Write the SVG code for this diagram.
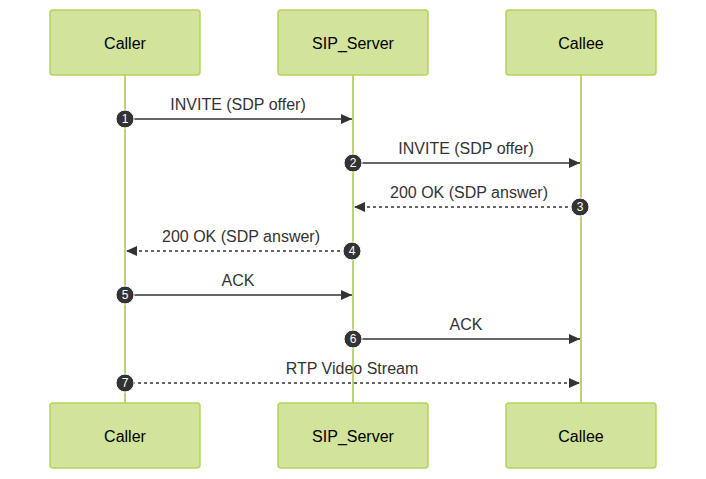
<svg xmlns="http://www.w3.org/2000/svg" width="706" height="479" viewBox="0 0 706 479">
<style>
.box{fill:#d2e39b;stroke:#b3d55a;stroke-width:1.5}
.t{font-family:"Liberation Sans",Arial,sans-serif;font-size:16px;fill:#000;text-anchor:middle}
.m{font-family:"Liberation Sans",Arial,sans-serif;font-size:16px;fill:#333;text-anchor:middle}
.life{stroke:#a3c63e;stroke-width:1.5}
.msg{stroke:#333;stroke-width:1.5;fill:none}
.d{stroke-dasharray:3,3}
.n circle{fill:#333;stroke:#fff;stroke-width:1}
.n text{font-family:"Liberation Sans",Arial,sans-serif;font-size:12px;fill:#fff;text-anchor:middle}
</style>
<defs><marker id="a" markerWidth="12" markerHeight="12" refX="11" refY="6" orient="auto" markerUnits="userSpaceOnUse"><path d="M0,1 L11,6 L0,11 z" fill="#333"/></marker></defs>
<rect width="706" height="479" fill="#fff"/>
<g id="lifelines">
<line class="life" x1="125" y1="75" x2="125" y2="403"/>
<line class="life" x1="353" y1="75" x2="353" y2="403"/>
<line class="life" x1="581" y1="75" x2="581" y2="403"/>
</g>
<g id="caller"><rect class="box" x="50" y="10" width="150" height="65" rx="3"/><text class="t" x="125" y="49">Caller</text></g>
<g id="server"><rect class="box" x="278" y="10" width="150" height="65" rx="3"/><text class="t" x="353" y="49">SIP_Server</text></g>
<g id="callee"><rect class="box" x="506" y="10" width="150" height="65" rx="3"/><text class="t" x="581" y="49">Callee</text></g>
<g id="caller2"><rect class="box" x="50" y="403" width="150" height="65" rx="3"/><text class="t" x="125" y="442">Caller</text></g>
<g id="server2"><rect class="box" x="278" y="403" width="150" height="65" rx="3"/><text class="t" x="353" y="442">SIP_Server</text></g>
<g id="callee2"><rect class="box" x="506" y="403" width="150" height="65" rx="3"/><text class="t" x="581" y="442">Callee</text></g>
<g id="connectors">
<line class="msg" x1="126" y1="119" x2="352" y2="119" marker-end="url(#a)"/>
<line class="msg" x1="354" y1="163" x2="580" y2="163" marker-end="url(#a)"/>
<line class="msg d" x1="580" y1="207" x2="354" y2="207" marker-end="url(#a)"/>
<line class="msg d" x1="352" y1="251" x2="126" y2="251" marker-end="url(#a)"/>
<line class="msg" x1="126" y1="295" x2="352" y2="295" marker-end="url(#a)"/>
<line class="msg" x1="354" y1="339" x2="580" y2="339" marker-end="url(#a)"/>
<line class="msg d" x1="126" y1="383" x2="580" y2="383" marker-end="url(#a)"/>
<text class="m" x="238" y="110">INVITE (SDP offer)</text>
<text class="m" x="466" y="154">INVITE (SDP offer)</text>
<text class="m" x="469" y="198">200 OK (SDP answer)</text>
<text class="m" x="241" y="242">200 OK (SDP answer)</text>
<text class="m" x="238" y="286">ACK</text>
<text class="m" x="466" y="330">ACK</text>
<text class="m" x="352" y="374">RTP Video Stream</text>
<g class="n">
<circle cx="125" cy="119" r="9"/><text x="125" y="123">1</text>
<circle cx="353" cy="163" r="9"/><text x="353" y="167">2</text>
<circle cx="580" cy="207" r="9"/><text x="580" y="211">3</text>
<circle cx="352" cy="251" r="9"/><text x="352" y="255">4</text>
<circle cx="125" cy="295" r="9"/><text x="125" y="299">5</text>
<circle cx="353" cy="339" r="9"/><text x="353" y="343">6</text>
<circle cx="125" cy="383" r="9"/><text x="125" y="387">7</text>
</g>
</g>
</svg>
